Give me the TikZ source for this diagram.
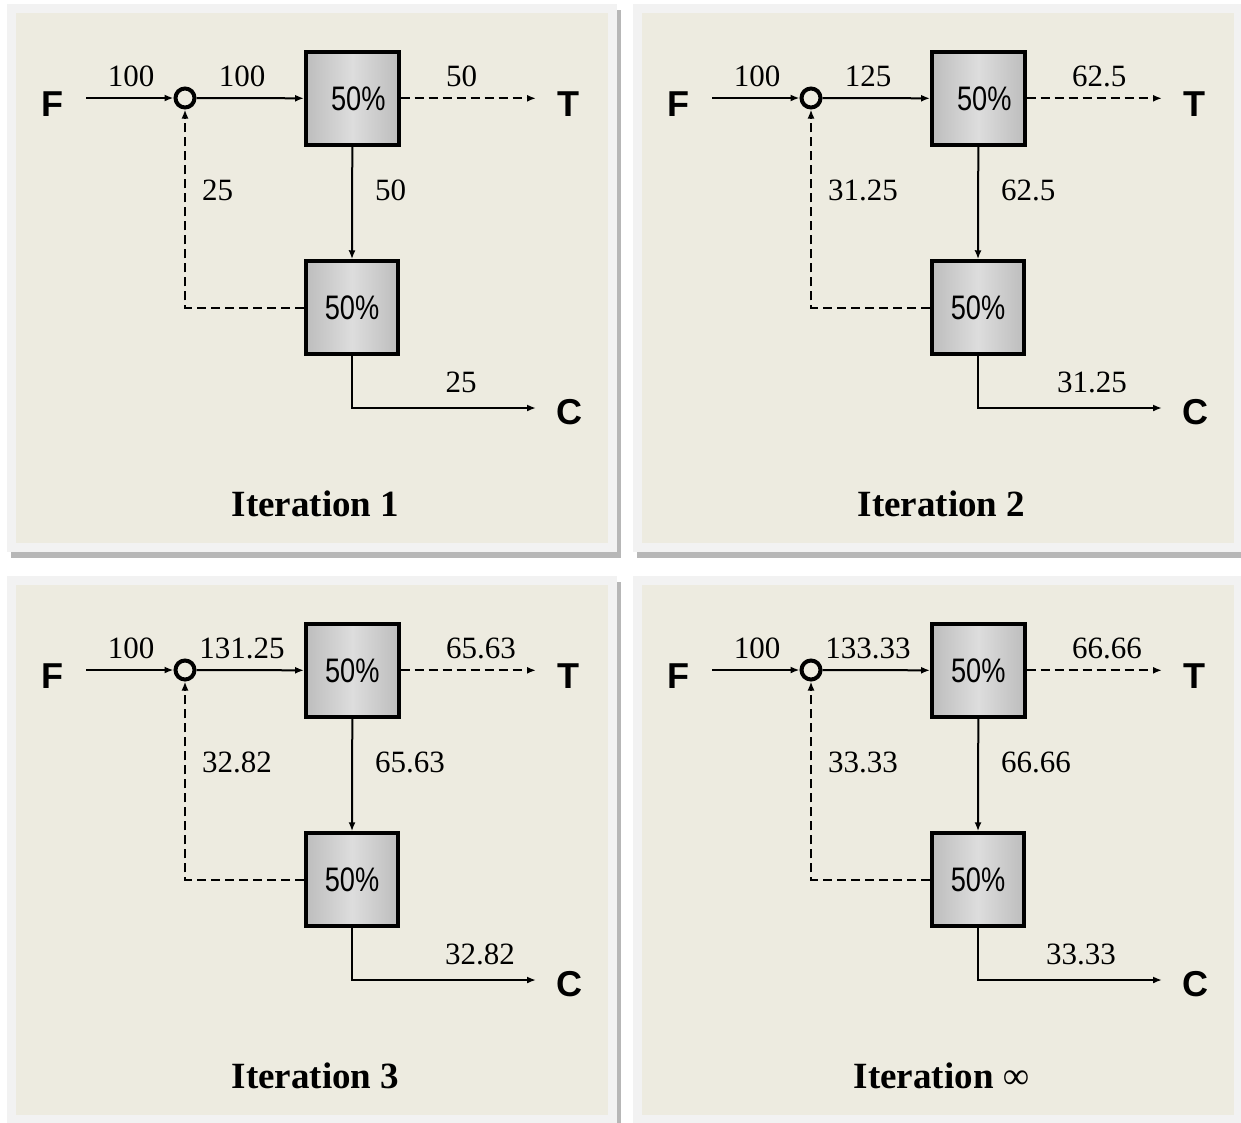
\documentclass[tikz,border=0pt]{standalone}
\usepackage{fontspec}
\usepackage{graphicx}
\setmainfont{Liberation Serif}
\newfontfamily\streamfont{Liberation Sans}
\usetikzlibrary{arrows.meta}

\definecolor{paper}{HTML}{EDEBE0}
\definecolor{framegray}{HTML}{F2F2F2}
\definecolor{shadowgray}{HTML}{B7B7B7}
\definecolor{boxedge}{HTML}{BDBDBD}
\definecolor{boxmid}{HTML}{DDDDDD}

\tikzset{
  flow/.style={line width=2pt, -{Latex[length=9pt,width=7pt]}},
  recycle/.style={flow, dash pattern=on 9pt off 5pt},
  unitbox/.style={draw, line width=4pt, minimum width=92.5pt, minimum height=92.5pt,
    inner sep=0pt, left color=boxedge, right color=boxedge, middle color=boxmid,
    font=\streamfont\fontsize{34}{34}\selectfont},
  mixer/.style={circle, draw, line width=4pt, minimum size=19pt, inner sep=0pt},
  streamname/.style={font=\streamfont\bfseries\fontsize{36}{36}\selectfont, anchor=base, inner sep=0pt},
  qty/.style={font=\fontsize{31}{31}\selectfont, anchor=base, inner sep=0pt},
  caption/.style={font=\bfseries\fontsize{37}{37}\selectfont, anchor=base, inner sep=0pt},
}

\begin{document}
\begin{tikzpicture}[x=1pt, y=-1pt]
  \useasboundingbox (0,0) rectangle (1241,1122);
  \fill[white] (0,0) rectangle (1241,1122);

  % one panel per iteration of the recycle loop
  \foreach \p/\dx/\dy/\title/\qa/\qb/\qc/\qd/\qe/\qf/\cx/\tx in {
      1/0/0/{Iteration 1}/100/100/50/25/50/25/461/12,
      2/626/0/{Iteration 2}/100/125/62.5/31.25/62.5/31.25/466/12,
      3/0/572/{Iteration 3}/100/131.25/65.63/32.82/65.63/32.82/480/0,
      4/626/572/{Iteration {\mdseries ∞}}/100/133.33/66.66/33.33/66.66/33.33/455/0} {
    \begin{scope}[shift={(\dx,\dy)}]
      % framed card with drop shadow
      \fill[shadowgray] (10.5,9.5) rectangle (620.5,557.5);
      \fill[framegray] (7,4) rectangle (617,552);
      \fill[paper] (16,13) rectangle (608,543);

      % process units
      \node[unitbox] (upper\p) at (352.3,98.3) {\hspace*{\tx pt}\scalebox{0.8}[1]{50\%}};
      \node[unitbox] (lower\p) at (352,307.5) {\scalebox{0.8}[1]{50\%}};
      \node[mixer] (mix\p) at (185,98) {};

      % stream names
      \node[streamname] (feed\p) at (52.5,116) {F};
      \node[streamname] (top\p) at (568.5,116) {T};
      \node[streamname] (bot\p) at (569,424) {C};

      % free ends of the external streams
      \coordinate (fin\p) at (86,98);
      \coordinate (tout\p) at (536,98.3);
      \coordinate (cout\p) at (536,408);

      % connectors
      \draw[flow] (fin\p) -- (mix\p.west);
      \draw[flow] (mix\p.east) -- (upper\p.west);
      \draw[recycle] (upper\p.east) -- (tout\p);
      \draw[flow] (upper\p.south) -- (lower\p.north);
      \draw[recycle] (lower\p.west) -| (mix\p.south);
      \draw[flow] (lower\p.south) |- (cout\p);

      % stream quantities
      \node[qty] (qfeed\p) at (131,86) {\qa};
      \node[qty] (qmix\p) at (242,86) {\qb};
      \node[qty, anchor=base west] (qtop\p) at (446,86) {\qc};
      \node[qty, anchor=base west] (qrec\p) at (202,200) {\qd};
      \node[qty, anchor=base west] (qmid\p) at (375,200) {\qe};
      \node[qty] (qbot\p) at (\cx,392) {\qf};

      % caption
      \node[caption] (cap\p) at (315.5,516) {\title};
    \end{scope}
  }
\end{tikzpicture}
\end{document}
